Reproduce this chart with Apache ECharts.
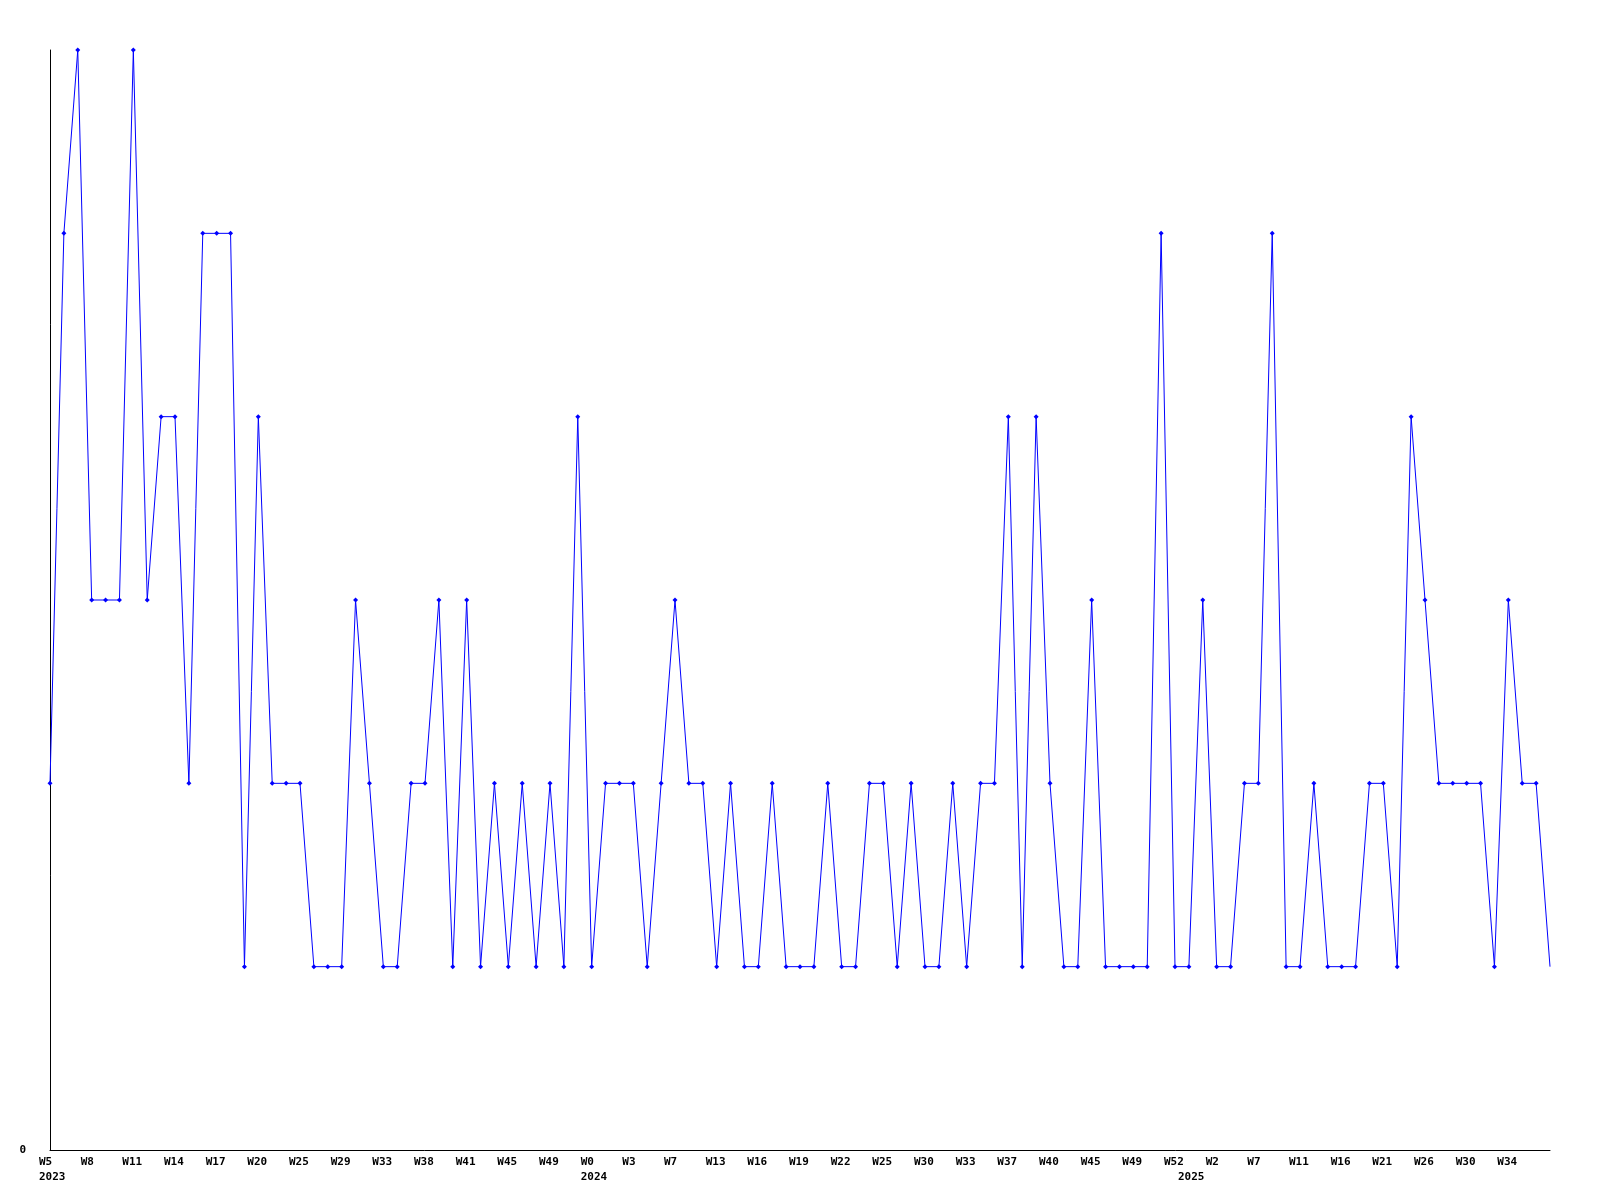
<!DOCTYPE html>
<html>
<head>
<meta charset="utf-8">
<script src="https://cdn.jsdelivr.net/npm/echarts@6/dist/echarts.min.js"></script>
<style>html,body{margin:0;padding:0;background:#fff}#c{width:1600px;height:1200px}</style>
</head>
<body>
<div id="c"></div>
<script>
// weekly values, one per data point
const values = [
  2, 5, 6, 3, 3, 3, 6, 3, 4, 4,
  2, 5, 5, 5, 1, 4, 2, 2, 2, 1,
  1, 1, 3, 2, 1, 1, 2, 2, 3, 1,
  3, 1, 2, 1, 2, 1, 2, 1, 4, 1,
  2, 2, 2, 1, 2, 3, 2, 2, 1, 2,
  1, 1, 2, 1, 1, 1, 2, 1, 1, 2,
  2, 1, 2, 1, 1, 2, 1, 2, 2, 4,
  1, 4, 2, 1, 1, 3, 1, 1, 1, 1,
  5, 1, 1, 3, 1, 1, 2, 2, 5, 1,
  1, 2, 1, 1, 1, 2, 2, 1, 4, 3,
  2, 2, 2, 2, 1, 3, 2, 2, 1
];
// tick labels shown on every third point
const weekLabels = [
  'W5','W8','W11','W14','W17','W20','W25','W29','W33','W38','W41','W45','W49',
  'W0','W3','W7','W13','W16','W19','W22','W25','W30','W33','W37','W40','W45','W49','W52',
  'W2','W7','W11','W16','W21','W26','W30','W34'
];
const labelStep = 3;
// year labels and the point index where each year starts
const years = ['2023','2024','2025'];
const yearStarts = [0, 39, 82];

const categories = values.map((v, i) => String(i));
const seriesData = values.map((v, i) => i === values.length - 1 ? {value: v, symbol: 'none'} : v);

function weekAt(idx) {
  if (idx % labelStep !== 0) return null;
  const w = weekLabels[idx / labelStep];
  return w === undefined ? null : w;
}

const chart = echarts.init(document.getElementById('c'), null, {renderer: 'canvas'});
const font = 'DejaVu Sans Mono';
chart.setOption({
  animation: false,
  backgroundColor: '#ffffff',
  grid: {left: 50, right: 50, top: 50, bottom: 50, containLabel: false},
  xAxis: {
    type: 'category',
    data: categories,
    boundaryGap: false,
    axisLine: {show: true, lineStyle: {color: '#000', width: 1}},
    axisTick: {show: false},
    splitLine: {show: false},
    axisLabel: {
      interval: (idx) => weekAt(idx) !== null || yearStarts.includes(idx),
      margin: 5,
      formatter: (val, idx) => {
        const w = weekAt(idx);
        const yi = yearStarts.indexOf(idx);
        let s = '{a|' + (w === null ? ' ' : w) + '}';
        if (yi >= 0) s += '\n{a|' + years[yi] + '}';
        return s;
      },
      rich: {
        a: {width: 22, align: 'left', fontFamily: font, fontWeight: 'bold', fontSize: 11, lineHeight: 15, color: '#000'}
      }
    }
  },
  yAxis: {
    type: 'value',
    min: 0,
    max: 6,
    interval: 6,
    axisLine: {show: true, lineStyle: {color: '#000', width: 1}},
    axisTick: {show: false},
    splitLine: {show: false},
    axisLabel: {
      showMaxLabel: false,
      margin: 24,
      fontFamily: font, fontWeight: 'bold', fontSize: 11, color: '#000'
    }
  },
  series: [{
    type: 'line',
    data: seriesData,
    symbol: 'diamond',
    symbolSize: 5,
    showAllSymbol: true,
    lineStyle: {color: '#0000ff', width: 1},
    itemStyle: {color: '#0000ff'}
  }]
});
</script>
</body>
</html>
